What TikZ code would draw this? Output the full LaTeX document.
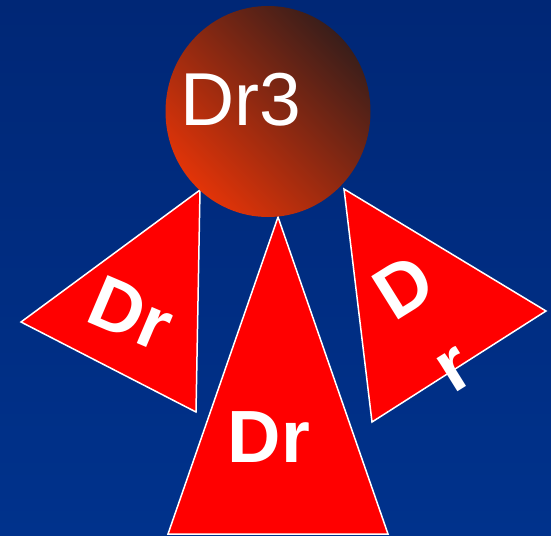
\documentclass[tikz,border=0pt]{standalone}
\usepackage{fontspec}
\setmainfont{Liberation Sans}

\definecolor{nenTren}{RGB}{0,39,118}
\definecolor{nenDuoi}{RGB}{0,50,140}
\definecolor{camDo}{RGB}{226,52,8}
\definecolor{nauDam}{RGB}{58,30,26}

\tikzset{
    tamgiac/.style={fill=red, draw=white, line width=1.5pt, line join=miter},
    chuDam/.style={text=white, font=\fontsize{74}{92}\selectfont\bfseries, inner sep=0pt},
    chuMong/.style={text=white, font=\fontsize{75}{90}\selectfont, inner sep=0pt}
}

\begin{document}
\begin{tikzpicture}[x=1pt, y=-1pt]
    % 1. Nền xanh và khung hình
    \shade[top color=nenTren, bottom color=nenDuoi] (0,0) rectangle (551,535);
    \useasboundingbox (0,0) rectangle (551,535);

    % 2. Ba tam giác đỏ viền trắng
    % Tam giác trái
    \filldraw[tamgiac] (200,190) -- (21,322) -- (196,412) -- cycle;
    % Tam giác giữa
    \filldraw[tamgiac] (278,217) -- (168,534) -- (388,534) -- cycle;
    % Tam giác phải
    \filldraw[tamgiac] (344,189) -- (546,311) -- (372,422) -- cycle;

    % 3. Hình tròn nâu đỏ
    \shade[top color=nauDam, bottom color=camDo, shading angle=-45]
        (268,111.5) ellipse (102.5 and 105.5);

    % 4. Nhãn chữ
    \node[chuMong] (dr3) at (241,100) {Dr3};
    \node[chuDam, rotate=-23] (drTrai) at (131,313) {Dr};
    \node[chuDam] (drGiua) at (269,437) {Dr};
    \node[chuDam, rotate=32, align=center] (drPhai) at (428,326) {D\\r};
\end{tikzpicture}
\end{document}
